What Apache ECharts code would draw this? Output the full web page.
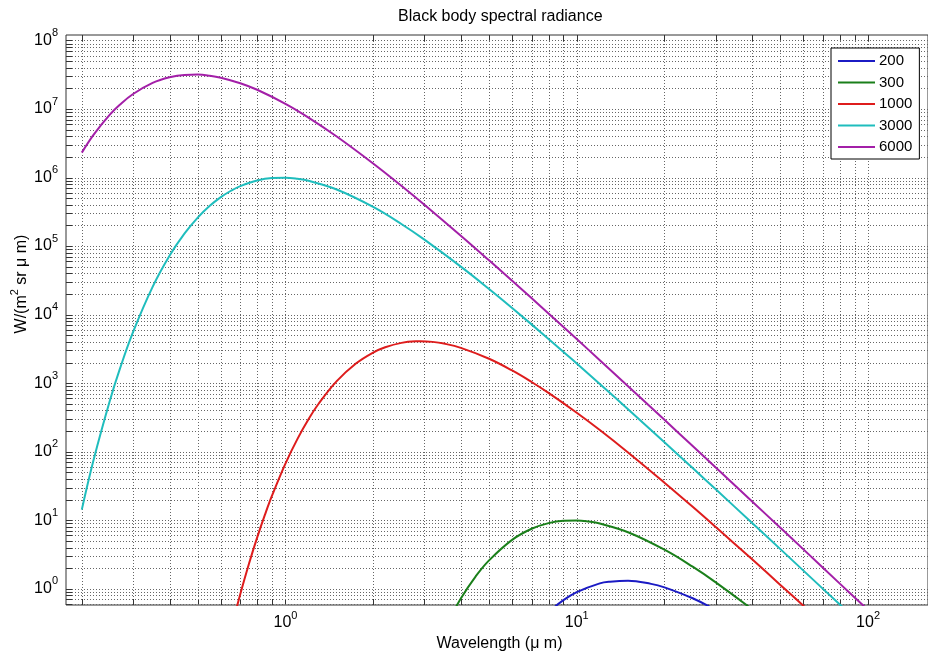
<!DOCTYPE html>
<html>
<head>
<meta charset="utf-8">
<title>Black body spectral radiance</title>
<script src="https://cdn.jsdelivr.net/npm/echarts@6/dist/echarts.min.js"></script>
<style>
  html, body { margin: 0; padding: 0; background: #fff; }
  #chart { width: 928px; height: 657px; }
</style>
</head>
<body>
<div id="chart"></div>
<script>
// Wavelengths (μm) and spectral radiance (W/(m² sr μm)) per temperature (K)
const wl200 = [7, 8, 9, 10, 12, 13, 15, 18, 20, 25, 30, 35];
const rad200 = [0.244, 0.452, 0.682, 0.896, 1.20, 1.27, 1.31, 1.18, 1.05, 0.727, 0.490, 0.333];

const wl300 = [3.5, 4, 4.5, 5, 6, 7, 8, 9, 10, 11, 12, 15, 20, 25, 30, 40, 50];
const rad300 = [0.254, 0.722, 1.52, 2.60, 5.18, 7.51, 9.08, 9.83, 9.93, 9.57, 8.96, 6.69, 3.72, 2.10, 1.24, 0.502, 0.237];

const wl1000 = [0.65, 0.7, 0.75, 0.8, 0.85, 0.9, 1, 1.1, 1.2, 1.3, 1.5, 1.75, 2, 2.2, 2.5, 2.8, 2.9, 3.2, 3.5, 4, 5, 6, 7, 8, 10, 12, 15, 20, 25, 30, 40, 50, 60, 80];
const rad1000 = [0.250, 0.839, 2.34, 5.62, 11.95, 23.0, 67.2, 154, 297, 501, 1071, 1950, 2798, 3343, 3874, 4083, 4095, 4004, 3780, 3277, 2272, 1532, 1040, 721, 370, 207, 97.5, 35.3, 15.7, 7.96, 2.69, 1.14, 0.565, 0.185];

const wl3000 = [0.2, 0.22, 0.25, 0.27, 0.3, 0.35, 0.4, 0.45, 0.5, 0.55, 0.6, 0.65, 0.7, 0.8, 0.9, 1, 1.1, 1.2, 1.5, 2, 2.5, 3, 4, 5, 6, 8, 10, 12, 15, 20, 25, 30, 40, 50, 60, 80, 100];
const rad3000 = [14.3, 78.7, 568, 1602, 5588, 25380, 72200, 151750, 260200, 386400, 517600, 641800, 750700, 907800, 983000, 992500, 957200, 895700, 668500, 372200, 210000, 124100, 50200, 23690, 12510, 4426, 1935, 974, 416, 137, 57.7, 28.3, 9.13, 3.79, 1.84, 0.588, 0.242];

const wl6000 = [0.2, 0.22, 0.25, 0.27, 0.3, 0.35, 0.4, 0.45, 0.5, 0.55, 0.6, 0.7, 0.8, 1, 1.2, 1.5, 2, 2.5, 3, 4, 5, 6, 8, 10, 12, 15, 20, 25, 30, 40, 50, 60, 80, 100];
const rad6000 = [2.31e6, 4.27e6, 8.33e6, 1.154e7, 1.656e7, 2.403e7, 2.905e7, 3.145e7, 3.176e7, 3.062e7, 2.867e7, 2.382e7, 1.909e7, 1.191e7, 7.51e6, 3.972e6, 1.606e6, 7.58e5, 4.004e5, 1.416e5, 6.19e4, 3.117e4, 1.04e4, 4395, 2164, 904, 292, 121, 58.9, 18.8, 7.76, 3.76, 1.19, 0.491];

const temperatures = ['200', '300', '1000', '3000', '6000'];
const wavelengths = [wl200, wl300, wl1000, wl3000, wl6000];
const radiances = [rad200, rad300, rad1000, rad3000, rad6000];
const lineColors = ['#1b1bc4', '#1a7f1a', '#de1c1c', '#1fbdbd', '#a31fa8'];

// Axis extents
const X_MIN = 0.1765, X_MAX = 160.6;
const Y_MIN = 0.58, Y_MAX = 1.202e8;

// Grid line values: 1..9 × 10^k inside the axis ranges
const mantissas = [1, 2, 3, 4, 5, 6, 7, 8, 9];
function decadeValues(lo, hi) {
  const out = [];
  for (let k = Math.floor(Math.log10(lo)); k <= Math.ceil(Math.log10(hi)); k++) {
    for (const m of mantissas) {
      const v = m * Math.pow(10, k);
      if (v > lo && v < hi) out.push(+v.toPrecision(6));
    }
  }
  return out;
}
const gridData = []
  .concat(decadeValues(X_MIN, X_MAX).map(v => [v, 1, 0]))
  .concat(decadeValues(Y_MIN, Y_MAX).map(v => [1, v, 1]));

const FONT = '"Liberation Sans", Arial, sans-serif';

const supRich = {
  a: { fontSize: 16, fontFamily: FONT, color: '#000', padding: [5, 0, 5, 0] },
  b: { fontSize: 11, fontFamily: FONT, color: '#000', verticalAlign: 'top', lineHeight: 11 }
};

function powerLabel(v) {
  const k = Math.log10(v);
  const r = Math.round(k);
  if (Math.abs(k - r) > 1e-6) return '';
  return '{a|10}{b|' + r + '}';
}

function renderGrid(params, api) {
  const cs = params.coordSys;
  const p = api.coord([api.value(0), api.value(1)]);
  const dotted = { stroke: '#666', lineWidth: 1, lineDash: [1, 2] };
  const tick = { stroke: '#333', lineWidth: 1 };
  if (api.value(2) === 0) {
    const x = Math.round(p[0]) + 0.5;
    const yb = cs.y + cs.height;
    return {
      type: 'group',
      children: [
        { type: 'line', shape: { x1: x, y1: cs.y, x2: x, y2: yb }, style: dotted },
        { type: 'line', shape: { x1: x, y1: yb, x2: x, y2: yb - 6 }, style: tick },
        { type: 'line', shape: { x1: x, y1: cs.y, x2: x, y2: cs.y + 6 }, style: tick }
      ]
    };
  }
  const y = Math.round(p[1]) + 0.5;
  return {
    type: 'group',
    children: [
      { type: 'line', shape: { x1: cs.x, y1: y, x2: cs.x + cs.width, y2: y }, style: dotted },
      { type: 'line', shape: { x1: cs.x, y1: y, x2: cs.x + 6, y2: y }, style: tick }
    ]
  };
}

const lineSeries = temperatures.map((name, i) => ({
  name: name,
  type: 'line',
  data: wavelengths[i].map((w, j) => [w, radiances[i][j]]),
  showSymbol: false,
  symbol: 'none',
  smooth: 0.4,
  clip: true,
  z: 3,
  lineStyle: { width: 2, color: lineColors[i] },
  itemStyle: { color: lineColors[i] }
}));

const chart = echarts.init(document.getElementById('chart'), null, { renderer: 'canvas' });
chart.setOption({
  animation: false,
  backgroundColor: '#fff',
  textStyle: { fontFamily: FONT },
  title: {
    text: 'Black body spectral radiance',
    left: 398,
    top: 9,
    padding: 0,
    textStyle: { fontSize: 16, fontWeight: 'normal', color: '#000', fontFamily: FONT }
  },
  grid: {
    left: 66, top: 35, right: -2, bottom: 49,
    show: true, borderColor: '#333', borderWidth: 1, backgroundColor: '#fff'
  },
  legend: {
    data: temperatures,
    orient: 'vertical',
    left: 831,
    top: 48,
    padding: [5, 7, 4, 7],
    itemGap: 5.5,
    itemWidth: 37,
    itemHeight: 2,
    icon: 'rect',
    borderColor: '#000',
    borderWidth: 1,
    backgroundColor: '#fff',
    textStyle: { fontSize: 15, color: '#000', fontFamily: FONT, lineHeight: 16, padding: [0, 0, 0, -1] }
  },
  xAxis: {
    type: 'log',
    logBase: 10,
    min: X_MIN,
    max: X_MAX,
    name: 'Wavelength (\u03bc m)',
    nameLocation: 'middle',
    nameGap: 31,
    nameTextStyle: { fontSize: 16, color: '#000', fontFamily: FONT, padding: [0, 0, 0, 5] },
    axisLine: { show: false },
    axisTick: { show: false },
    splitLine: { show: false },
    minorTick: { show: false },
    axisLabel: {
      margin: 5,
      showMinLabel: false,
      showMaxLabel: false,
      formatter: powerLabel,
      rich: supRich
    }
  },
  yAxis: {
    type: 'log',
    logBase: 10,
    min: Y_MIN,
    max: Y_MAX,
    axisLine: { show: false },
    axisTick: { show: false },
    splitLine: { show: false },
    minorTick: { show: false },
    axisLabel: {
      margin: 8,
      showMinLabel: false,
      showMaxLabel: false,
      formatter: powerLabel,
      rich: supRich
    }
  },
  graphic: [{
    type: 'text',
    x: 22,
    y: 284,
    rotation: Math.PI / 2,
    style: {
      text: '{a|W/(m}{b|2}{a| sr \u03bc m)}',
      align: 'center',
      verticalAlign: 'middle',
      rich: supRich
    }
  }],
  series: [{
    type: 'custom',
    silent: true,
    z: 1,
    renderItem: renderGrid,
    encode: { x: 0, y: 1 },
    data: gridData
  }].concat(lineSeries)
});
</script>
</body>
</html>
